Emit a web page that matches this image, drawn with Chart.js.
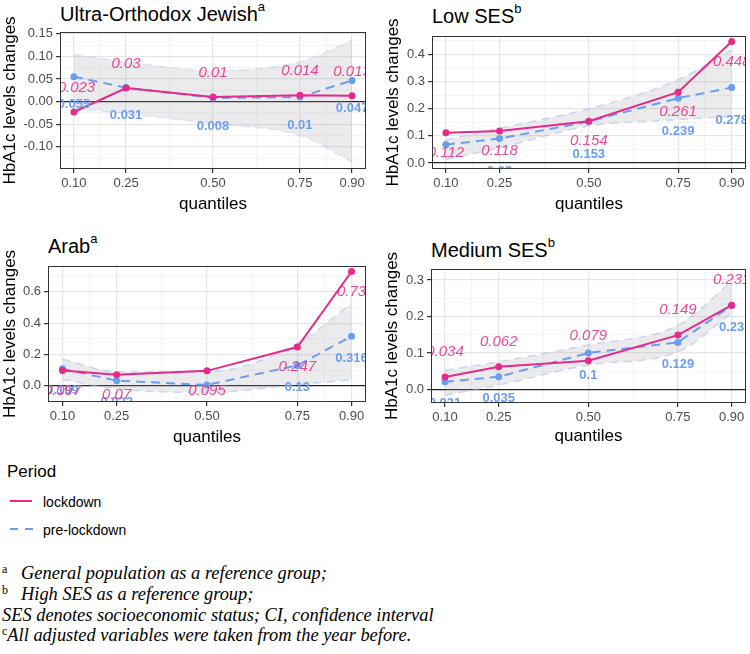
<!DOCTYPE html>
<html>
<head>
<meta charset="utf-8">
<title>HbA1c levels changes by quantile</title>
<script src="https://cdn.jsdelivr.net/npm/chart.js@4.4.1/dist/chart.umd.min.js"></script>
<style>
  html, body { margin: 0; padding: 0; background: #fff; }
  body { position: relative; width: 750px; height: 654px; overflow: hidden;
         font-family: "Liberation Sans", Arial, sans-serif; color: #000; }
  canvas { position: absolute; }
  .ptitle { position: absolute; font-size: 20px; line-height: 20px; white-space: nowrap; }
  .ptitle sup { font-size: 13px; line-height: 0; vertical-align: 10px; }
  .lg { position: absolute; white-space: nowrap; }
  .fn { position: absolute; left: 2px; font-family: "Liberation Serif", "Times New Roman", serif;
        font-style: italic; font-size: 18.4px; line-height: 20px; white-space: nowrap; }
  .fn .s { font-style: normal; font-size: 12px; line-height: 0; vertical-align: 6px; }
</style>
</head>
<body>

<div class="lg" style="left:7px;top:462px;font-size:17px;line-height:20px">Period</div>
<svg class="lg" style="left:0;top:490px" width="40" height="50">
  <line x1="10" y1="11" x2="32" y2="11" stroke="#E7298A" stroke-width="2"/>
  <line x1="10" y1="39" x2="33" y2="39" stroke="#6A9EF2" stroke-width="2" stroke-dasharray="8,7"/>
</svg>
<div class="lg" style="left:43px;top:494px;font-size:14px;line-height:16px">lockdown</div>
<div class="lg" style="left:43px;top:522px;font-size:14px;line-height:16px">pre-lockdown</div>

<div class="fn" style="top:563px"><span class="s" style="display:inline-block;width:19px">a</span>General population as a reference group;</div>
<div class="fn" style="top:584px"><span class="s" style="display:inline-block;width:19px">b</span>High SES as a reference group;</div>
<div class="fn" style="top:605px">SES denotes socioeconomic status; CI, confidence interval</div>
<div class="fn" style="top:625px"><span class="s">c</span>All adjusted variables were taken from the year before.</div>

<script>
// ─── DATA ────────────────────────────────────────────────────────────────────

const quantiles = [0.10, 0.25, 0.50, 0.75, 0.90];
const quantileLabels = ["0.10", "0.25", "0.50", "0.75", "0.90"];

// Ultra-Orthodox Jewish
const ultraLockdown = [-0.023, 0.03, 0.01, 0.014, 0.013];
const ultraPre      = [0.055, 0.031, 0.008, 0.01, 0.047];
const ultraCiHigh   = [0.104, 0.088, 0.069, 0.088, 0.136];
const ultraCiLow    = [-0.015, -0.027, -0.049, -0.075, -0.133];
const ultraYTicks   = [-0.10, -0.05, 0.00, 0.05, 0.10, 0.15];

// Low SES
const lowLockdown = [0.112, 0.118, 0.154, 0.261, 0.448];
const lowPre      = [0.068, 0.09, 0.153, 0.239, 0.278];
const lowCiHigh   = [0.085, 0.128, 0.2, 0.307, 0.417];
const lowCiLow    = [0.013, 0.056, 0.136, 0.16, 0.172];
const lowYTicks   = [0.0, 0.1, 0.2, 0.3, 0.4];

// Arab
const arabLockdown = [0.097, 0.07, 0.095, 0.247, 0.73];
const arabPre      = [0.109, 0.032, 0.005, 0.13, 0.316];
const arabCiHigh   = [0.17, 0.09, 0.09, 0.27, 0.526];
const arabCiLow    = [0.04, -0.02, -0.043, 0.006, 0.038];
const arabYTicks   = [0.0, 0.2, 0.4, 0.6];

// Medium SES
const medLockdown = [0.034, 0.062, 0.079, 0.149, 0.231];
const medPre      = [0.021, 0.035, 0.1, 0.129, 0.23];
const medCiHigh   = [0.053, 0.076, 0.122, 0.176, 0.295];
const medCiLow    = [-0.016, 0.012, 0.067, 0.103, 0.209];
const medYTicks   = [0.0, 0.1, 0.2, 0.3];

// ─── LAYOUT ──────────────────────────────────────────────────────────────────

const PINK = "#E7298A";
const PINK_TEXT = "rgba(231,41,138,0.85)";
const BLUE = "#6A9EF2";
const FONT = '"Liberation Sans", Arial, sans-serif';

const panels = [
    { title: "Ultra-Orthodox Jewish", sup: "a", titleTop: 4,
      lockdown: ultraLockdown, pre: ultraPre, ciHigh: ultraCiHigh, ciLow: ultraCiLow,
      yTicks: ultraYTicks, yDec: 2, yMin: -0.149, yMax: 0.154, xMin: 0.06, xMax: 0.94,
      box: { left: 0, top: 0, width: 375, height: 215 },
      area: { left: 60, top: 32, right: 366, bottom: 169 },
      yTitlePad: 0, pinkOff: -24, blueOff: 28, edge: "rgba(160,190,240,0.3)" },
    { title: "Low SES", sup: "b", titleTop: 6,
      lockdown: lowLockdown, pre: lowPre, ciHigh: lowCiHigh, ciLow: lowCiLow,
      yTicks: lowYTicks, yDec: 1, yMin: -0.022, yMax: 0.468, xMin: 0.061, xMax: 0.94,
      box: { left: 375, top: 0, width: 375, height: 215 },
      area: { left: 432, top: 36, right: 749, bottom: 169 },
      yTitlePad: 8, pinkOff: 20, blueOff: 33, edge: "rgba(160,190,240,0.55)" },
    { title: "Arab", sup: "a", titleTop: 236,
      lockdown: arabLockdown, pre: arabPre, ciHigh: arabCiHigh, ciLow: arabCiLow,
      yTicks: arabYTicks, yDec: 1, yMin: -0.104, yMax: 0.765, xMin: 0.06, xMax: 0.94,
      box: { left: 0, top: 220, width: 375, height: 228 },
      area: { left: 48, top: 266, right: 366, bottom: 402 },
      yTitlePad: 0, pinkOff: 20, blueOff: 22, edge: "rgba(160,190,240,0.55)" },
    { title: "Medium SES", sup: "b", titleTop: 240,
      lockdown: medLockdown, pre: medPre, ciHigh: medCiHigh, ciLow: medCiLow,
      yTicks: medYTicks, yDec: 1, yMin: -0.037, yMax: 0.33, xMin: 0.061, xMax: 0.94,
      box: { left: 375, top: 220, width: 375, height: 227 },
      area: { left: 431, top: 269, right: 749, bottom: 403 },
      yTitlePad: 7, pinkOff: -25, blueOff: 22, edge: "rgba(160,190,240,0.55)" }
];

// ─── HELPERS ─────────────────────────────────────────────────────────────────

const round6 = v => Math.round(v * 1e6) / 1e6;
const isIn = (list, v) => list.some(m => Math.abs(m - v) < 1e-9);

// major breaks + the minor ones half way between them, kept inside the range
function gridBreaks(major, min, max) {
    const step = major[1] - major[0];
    const out = [];
    for (let v = major[0] - step; v <= major[major.length - 1] + step + 1e-9; v += step / 2) {
        const r = round6(v);
        if (r >= min && r <= max) out.push(r);
    }
    return out;
}

function xBreaks(min, max) {
    const out = quantiles.slice();
    for (let i = 0; i < quantiles.length - 1; i++) out.push(round6((quantiles[i] + quantiles[i + 1]) / 2));
    return out.filter(v => v >= min && v <= max).sort((a, b) => a - b);
}

const toPoints = vals => quantiles.map((q, i) => ({ x: q, y: vals[i] }));

// point labels (clipped to the panel) + the dark panel border on top
const panelDecor = {
    id: "panelDecor",
    afterDatasetsDraw(chart, args, opts) {
        const ctx = chart.ctx, a = chart.chartArea;
        ctx.save();
        ctx.beginPath();
        ctx.rect(a.left, a.top, a.right - a.left, a.bottom - a.top);
        ctx.clip();
        ctx.textAlign = "center";
        ctx.textBaseline = "middle";
        opts.series.forEach(s => {
            const meta = chart.getDatasetMeta(s.index);
            const data = chart.data.datasets[s.index].data;
            ctx.font = s.font;
            ctx.fillStyle = s.color;
            meta.data.forEach((pt, i) => ctx.fillText(String(data[i].y), pt.x, pt.y + s.offset));
        });
        ctx.restore();

        ctx.save();
        ctx.strokeStyle = "#333";
        ctx.lineWidth = 1;
        ctx.strokeRect(Math.round(a.left) + 0.5, Math.round(a.top) + 0.5,
                       Math.round(a.right - a.left) - 1, Math.round(a.bottom - a.top) - 1);
        ctx.restore();
    }
};

// ─── CHARTS ──────────────────────────────────────────────────────────────────

function makePanel(p) {
    const title = document.createElement("div");
    title.className = "ptitle";
    title.style.left = p.area.left + "px";
    title.style.top = p.titleTop + "px";
    title.innerHTML = p.title + "<sup>" + p.sup + "</sup>";
    document.body.appendChild(title);

    const canvas = document.createElement("canvas");
    canvas.width = p.box.width;
    canvas.height = p.box.height;
    canvas.style.left = p.box.left + "px";
    canvas.style.top = p.box.top + "px";
    document.body.appendChild(canvas);

    const yGrid = gridBreaks(p.yTicks, p.yMin, p.yMax);
    const xGrid = xBreaks(p.xMin, p.xMax);

    const bandEdge = {
        borderColor: p.edge,
        borderWidth: 1.5,
        borderDash: [8, 6],
        pointRadius: 0,
        cubicInterpolationMode: "monotone",
        order: 3
    };

    new Chart(canvas, {
        type: "line",
        data: {
            datasets: [
                { label: "lockdown", data: toPoints(p.lockdown), borderColor: PINK, backgroundColor: PINK,
                  borderWidth: 2, pointRadius: 3.5, pointBorderWidth: 0, fill: false, order: 1 },
                { label: "pre-lockdown", data: toPoints(p.pre), borderColor: BLUE, backgroundColor: BLUE,
                  borderWidth: 2, borderDash: [9, 6], pointRadius: 3.5, pointBorderWidth: 0, fill: false, order: 2 },
                { label: "CI high", data: toPoints(p.ciHigh), fill: false, ...bandEdge },
                { label: "CI low", data: toPoints(p.ciLow), fill: "-1",
                  backgroundColor: "rgba(165,165,172,0.22)", ...bandEdge }
            ]
        },
        options: {
            responsive: false,
            animation: false,
            layout: { padding: { left: 0, bottom: 0,
                                 top: p.area.top - p.box.top,
                                 right: p.box.left + p.box.width - p.area.right } },
            plugins: {
                legend: { display: false },
                tooltip: { enabled: false },
                panelDecor: { series: [
                    { index: 1, offset: p.blueOff, color: BLUE, font: "bold 13px " + FONT },
                    { index: 0, offset: p.pinkOff, color: PINK_TEXT, font: "italic 15px " + FONT }
                ] }
            },
            scales: {
                x: {
                    type: "linear", min: p.xMin, max: p.xMax,
                    afterFit: s => { s.height = p.box.top + p.box.height - p.area.bottom; },
                    afterBuildTicks: s => { s.ticks = xGrid.map(v => ({ value: v })); },
                    ticks: {
                        autoSkip: false, maxRotation: 0, padding: 3, color: "#4d4d4d",
                        font: { family: FONT, size: 13 },
                        callback: v => isIn(quantiles, v) ? quantileLabels[quantiles.findIndex(q => Math.abs(q - v) < 1e-9)] : ""
                    },
                    grid: {
                        color: c => isIn(quantiles, c.tick.value) ? "#e6e6e6" : "#f1f1f1",
                        lineWidth: c => isIn(quantiles, c.tick.value) ? 1.2 : 0.8,
                        tickLength: 4,
                        tickColor: c => isIn(quantiles, c.tick.value) ? "#333" : "rgba(0,0,0,0)"
                    },
                    border: { display: false },
                    title: { display: true, text: "quantiles", color: "#000",
                             font: { family: FONT, size: 17 }, padding: 0 }
                },
                y: {
                    type: "linear", min: p.yMin, max: p.yMax,
                    afterFit: s => { s.width = p.area.left - p.box.left; },
                    afterBuildTicks: s => { s.ticks = yGrid.map(v => ({ value: v })); },
                    ticks: {
                        autoSkip: false, padding: 3, color: "#4d4d4d",
                        font: { family: FONT, size: 13 },
                        callback: v => isIn(p.yTicks, v) ? v.toFixed(p.yDec) : ""
                    },
                    grid: {
                        color: c => Math.abs(c.tick.value) < 1e-9 ? "#222"
                                  : isIn(p.yTicks, c.tick.value) ? "#e6e6e6" : "#f1f1f1",
                        lineWidth: c => Math.abs(c.tick.value) < 1e-9 ? 1.2
                                  : isIn(p.yTicks, c.tick.value) ? 1.2 : 0.8,
                        tickLength: 4,
                        tickColor: c => isIn(p.yTicks, c.tick.value) ? "#333" : "rgba(0,0,0,0)"
                    },
                    border: { display: false },
                    title: { display: true, text: "HbA1c levels changes", color: "#000",
                             font: { family: FONT, size: 17 }, padding: { top: p.yTitlePad, bottom: 0 } }
                }
            }
        },
        plugins: [panelDecor]
    });
}

panels.forEach(makePanel);
</script>
</body>
</html>
